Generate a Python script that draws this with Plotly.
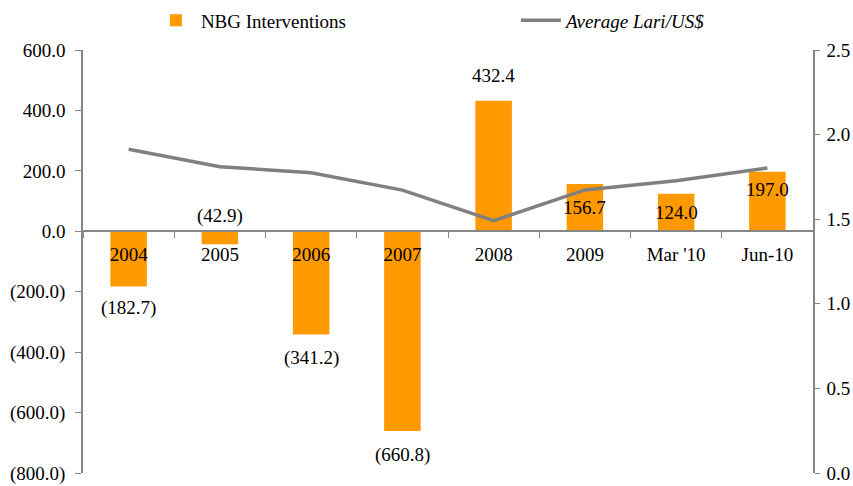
import plotly.graph_objects as go

categories = ["2004", "2005", "2006", "2007", "2008", "2009", "Mar '10", "Jun-10"]
interventions = [-182.7, -42.9, -341.2, -660.8, 432.4, 156.7, 124.0, 197.0]
lari_usd = [1.913, 1.810, 1.775, 1.672, 1.491, 1.673, 1.727, 1.803]

left_ticks = [-800, -600, -400, -200, 0, 200, 400, 600]
left_ticktext = ["(800.0)", "(600.0)", "(400.0)", "(200.0)", "0.0", "200.0", "400.0", "600.0"]
right_ticks = [0.0, 0.5, 1.0, 1.5, 2.0, 2.5]

FONT = "Liberation Serif"
AXIS_GREY = "#868686"
ORANGE = "#FF9900"
LINE_GREY = "#808080"

fig = go.Figure()

fig.add_trace(go.Bar(
    x=categories, y=interventions, name="NBG Interventions",
    marker=dict(color=ORANGE, line=dict(width=0)), width=0.4,
))
fig.add_trace(go.Scatter(
    x=categories, y=lari_usd, name="<i>Average Lari/US$</i>", yaxis="y2",
    mode="lines", line=dict(color=LINE_GREY, width=3.5),
))

# data labels: negatives below bar end, 2008 above, the rest inside near the top
# (x given as category index: "2004" as a string would be read as position 2004)
label_shift = [-22, 15, -24, -24, 25, -24, -19, -18]
for i, (val, dy) in enumerate(zip(interventions, label_shift)):
    txt = "(%.1f)" % abs(val) if val < 0 else "%.1f" % val
    yref_val = 0 if categories[i] == "2005" else val
    fig.add_annotation(
        x=i, y=yref_val, text=txt, showarrow=False, yshift=dy,
        font=dict(family=FONT, size=19, color="#000000"),
    )

fig.update_layout(
    width=853, height=486,
    margin=dict(l=83, r=40, t=50, b=13, autoexpand=False),
    plot_bgcolor="white", paper_bgcolor="white",
    font=dict(family=FONT, size=19, color="#000000"),
    showlegend=True,
    legend=dict(
        orientation="h", x=0.093, y=1.07, xanchor="left", yanchor="middle",
        font=dict(family=FONT, size=19), entrywidth=310, entrywidthmode="pixels",
        itemwidth=40, bgcolor="rgba(0,0,0,0)",
    ),
    xaxis=dict(
        type="category", anchor="free", position=800 / 1400,
        range=[-0.5, 7.5], automargin=False,
        showline=True, linecolor=AXIS_GREY, linewidth=1.5,
        ticks="outside", tickson="boundaries", ticklen=6, tickcolor=AXIS_GREY,
        showgrid=False, zeroline=False, ticklabelstandoff=6,
        tickfont=dict(family=FONT, size=19),
    ),
    yaxis=dict(
        range=[-800, 600], tickvals=left_ticks, ticktext=left_ticktext,
        automargin=False,
        showline=True, linecolor=AXIS_GREY, linewidth=1.5,
        ticks="outside", ticklen=6, tickcolor=AXIS_GREY,
        showgrid=False, zeroline=False, ticklabelstandoff=6,
    ),
    yaxis2=dict(
        range=[0, 2.5], tickvals=right_ticks, tickformat=".1f",
        overlaying="y", side="right", automargin=False,
        showline=True, linecolor=AXIS_GREY, linewidth=1.5,
        ticks="outside", ticklen=5, tickcolor=AXIS_GREY,
        showgrid=False, zeroline=False, ticklabelstandoff=3,
    ),
)

# drop the browser's default body margin so the figure fills the window
fig.write_html("out.html", config={"displayModeBar": False},
               post_script="document.body.style.margin='0';")
